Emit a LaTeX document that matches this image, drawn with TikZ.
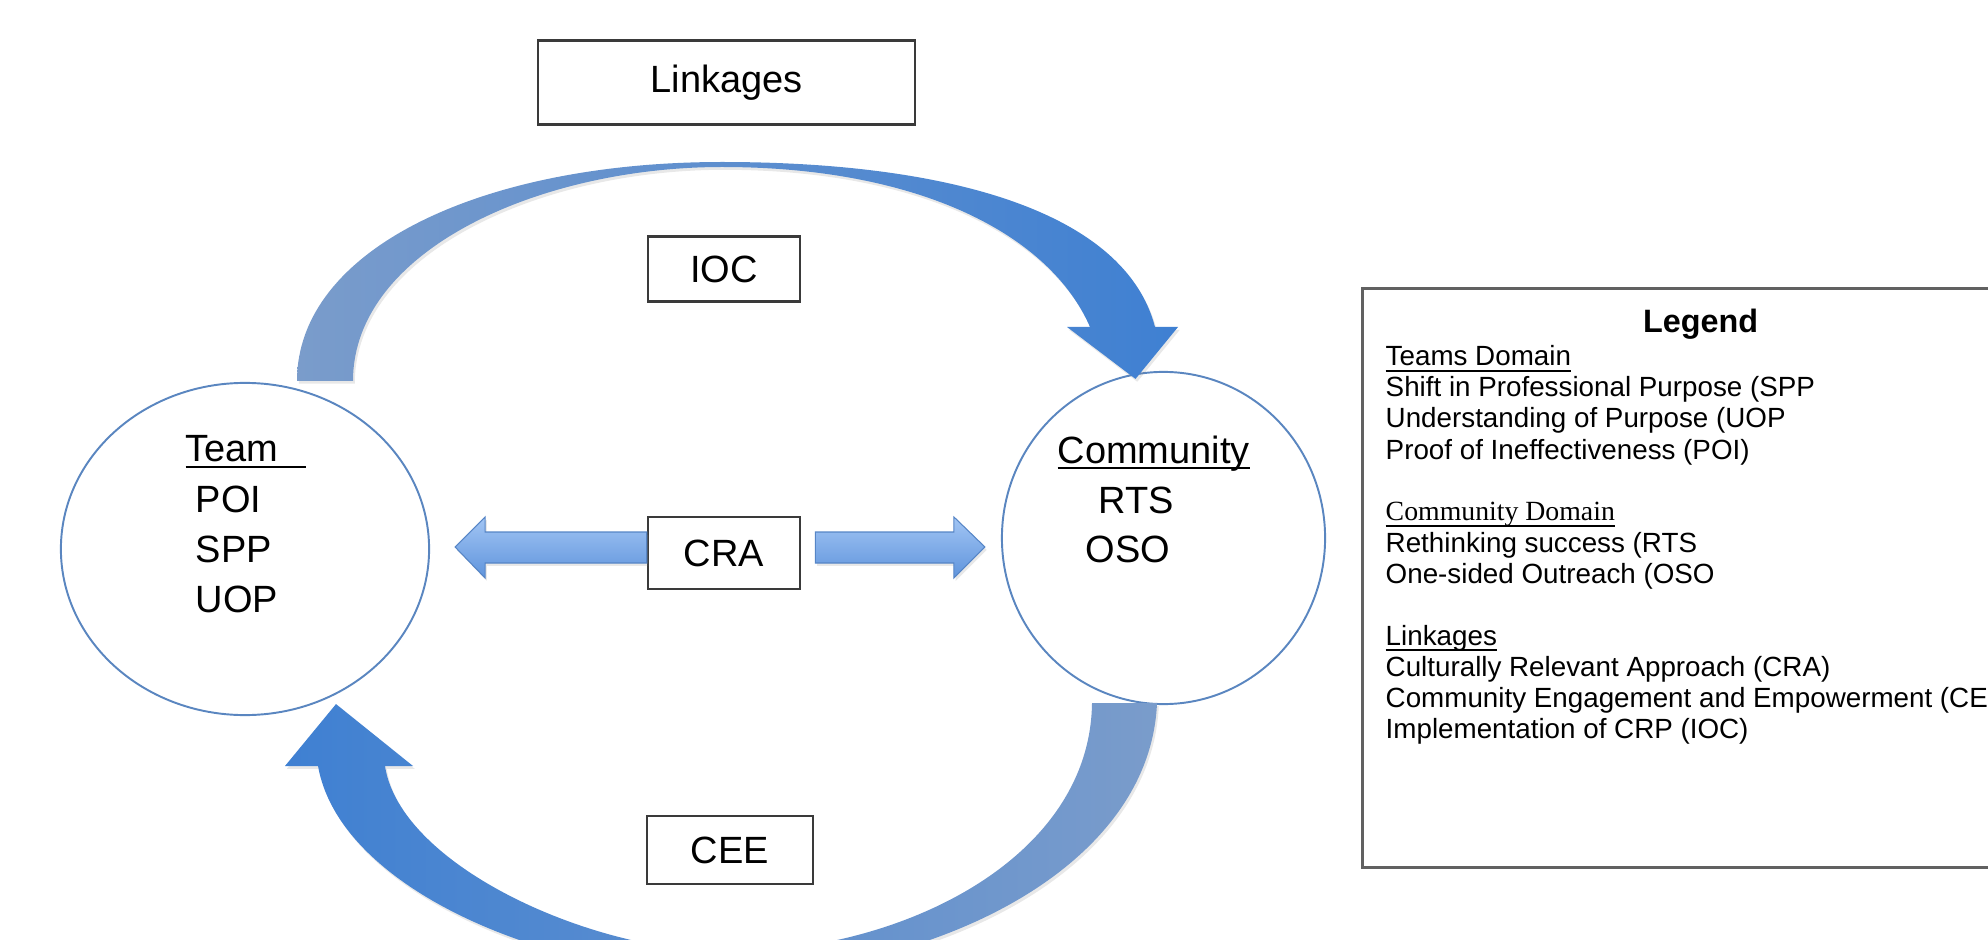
\documentclass[tikz,border=0pt]{standalone}
\usepackage{fontspec}
\setmainfont{Liberation Sans}
\newfontfamily\serifface{Liberation Serif}
\usetikzlibrary{shapes.geometric}
\usetikzlibrary{calc}
\usetikzlibrary{shadows}
\definecolor{ringblue}{HTML}{5A86C0}
\definecolor{arcgrey}{HTML}{7A9CCB}
\definecolor{arcblue}{HTML}{3F80D2}
\definecolor{barlight}{HTML}{A2C5F4}
\definecolor{bardark}{HTML}{5F94DC}
\definecolor{boxline}{HTML}{3A3A3A}
\newcommand{\undl}[1]{\underline{\smash{#1}}}
\tikzset{ringnode/.style={draw=ringblue,line width=0.55pt,fill=white,ellipse,inner sep=0pt},
         linkbox/.style={draw=boxline,line width=0.7pt,fill=white,inner sep=0pt,font=\fontsize{10.8}{13}\selectfont},
         bigtext/.style={font=\fontsize{10.8}{13}\selectfont,inner sep=0pt,anchor=base west},
         legtext/.style={font=\fontsize{7.9}{8.8}\selectfont,inner sep=0pt,anchor=base west},
         soft shadow/.style={drop shadow={opacity=0.18,shadow xshift=0.5pt,shadow yshift=-0.8pt}},
         flat arrow/.style={soft shadow,top color=barlight,bottom color=bardark,draw=bardark!90!black,line width=0.3pt},
         }

\begin{document}
\begin{tikzpicture}[x=0.01cm,y=-0.01cm]
\useasboundingbox (0,0) rectangle (1988,940);

\node[ringnode,minimum width=3.68cm,minimum height=3.32cm] (team) at (245,549) {};
\node[ringnode,minimum width=3.23cm,minimum height=3.32cm] (comm) at (1163.5,538) {};

\node[linkbox,minimum width=3.77cm,minimum height=0.84cm] (linkages) at (726.5,82.5) {Linkages};
\node[linkbox,minimum width=1.52cm,minimum height=0.65cm] (ioc) at (724,269) {IOC};
\node[linkbox,minimum width=1.52cm,minimum height=0.72cm] (cra) at (724,553) {CRA};
\node[linkbox,minimum width=1.66cm,minimum height=0.68cm] (cee) at (730,850) {CEE};

\node[bigtext] (teamhead) at (185,462) {\undl{Team\hspace{0.27cm}}};
\foreach \s [count=\i] in {POI,SPP,UOP}
  \node[bigtext] (team\s) at (195,{462+50*\i}) {\s};
\node[bigtext] (commhead) at (1057,463) {\undl{Community}};
\node[bigtext] (commRTS) at (1098,513) {RTS};
\node[bigtext] (commOSO) at (1085,562) {OSO};

% CRA block arrows
\coordinate (craleft) at ($(team.east)+(25,-2)$);
\coordinate (craright) at ($(comm.west)+(-16,9)$);
\draw[flat arrow] ($(cra.west)+(0,-21)$) -- ($(craleft)+(30,-15)$) -- ($(craleft)+(30,-30)$)
  -- (craleft) -- ($(craleft)+(30,31)$) -- ($(craleft)+(30,16)$) -- ($(cra.west)+(0,10)$) -- cycle;
\draw[flat arrow] ($(cra.east)+(14,-21)$) -- ($(craright)+(-31,-15)$) -- ($(craright)+(-31,-30)$)
  -- (craright) -- ($(craright)+(-31,31)$) -- ($(craright)+(-31,16)$) -- ($(cra.east)+(14,10)$) -- cycle;

% IOC: team -> community
\coordinate (ioctail) at ($(team.north)+(80,-1)$);
\coordinate (ioctip) at ($(comm.north)+(-28,8)$);
\path[soft shadow,left color=arcgrey,right color=arcblue]
  ($(ioctail)+(-28,0)$) .. controls (297,250) and (480,162) .. (722,162)
  .. controls (950,162) and (1125,212) .. (1155,327)
  -- (1178,327) -- (ioctip) -- (1067,327) -- (1090,327)
  .. controls (1050,235) and (920,167) .. (722,167)
  .. controls (540,167) and (353,250) .. ($(ioctail)+(28,0)$) -- cycle;

% CEE: community -> team
\coordinate (ceetail) at ($(comm.south)+(-39,-2)$);
\coordinate (ceetip) at ($(team.south)+(91,-12)$);
\path[soft shadow,left color=arcblue,right color=arcgrey]
  ($(ceetail)+(32.5,0)$) .. controls (1150,870) and (930,975) .. (720,975)
  .. controls (550,975) and (340,890) .. (318,766)
  -- (285,766) -- (ceetip) -- (413,766) -- (385,766)
  .. controls (400,865) and (590,952) .. (728,952)
  .. controls (900,952) and (1090,860) .. ($(ceetail)+(-32.5,0)$) -- cycle;

% legend
\node[draw=boxline!80,line width=0.8pt,minimum width=6.76cm,minimum height=5.79cm,anchor=north west,inner sep=0pt] (legend) at (1361,287) {};
\node[font=\bfseries\fontsize{9.2}{10}\selectfont,inner sep=0pt,anchor=base] (legtitle) at ($(legend.north)+(0,46)$) {Legend};
\foreach \k/\txt in {0/{\undl{Teams Domain}}, 1/{Shift in Professional Purpose (SPP},
    2/{Understanding of Purpose (UOP}, 3/{Proof of Ineffectiveness (POI)},
    5/{\serifface\undl{Community Domain}}, 6/{Rethinking success (RTS}, 7/{One-sided Outreach (OSO},
    9/{\undl{Linkages}}, 10/{Culturally Relevant Approach (CRA)},
    11/{Community Engagement and Empowerment (CEE)}, 12/{Implementation of CRP (IOC)}}
  \node[legtext] (leg\k) at (1385,{366+31*\k}) {\txt};
\end{tikzpicture}
\end{document}
